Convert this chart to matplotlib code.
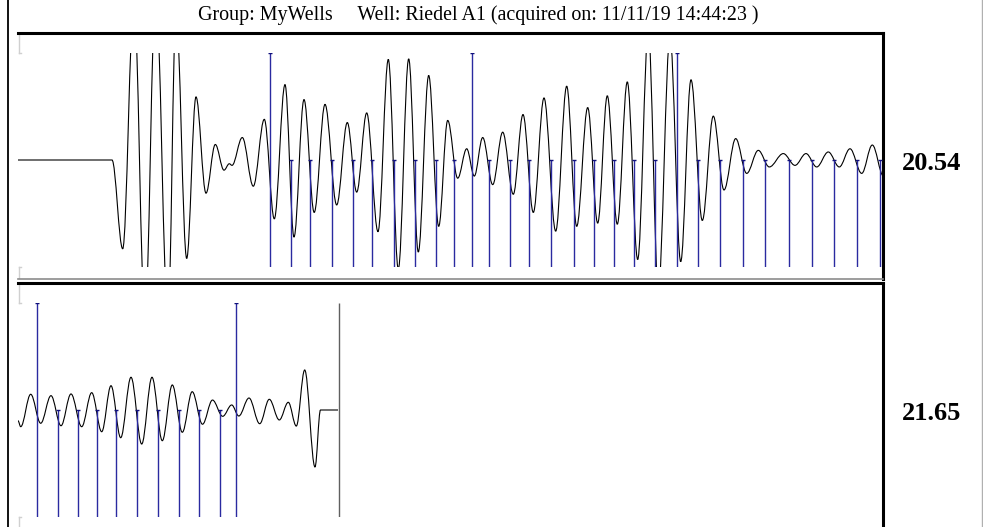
import matplotlib.pyplot as plt
from matplotlib.path import Path
from matplotlib.patches import PathPatch

# trace extrema: sample index and normalised amplitude (clip = +/-1)
top_t = [0, 94, 104.7, 116, 127, 137.7, 150, 158, 168.7, 178, 188, 197.3, 206, 211.3, 214,
         224.3, 235.3, 246.3, 256.3, 267, 276, 286, 296.2, 307, 318.7, 329.3, 338.7, 348.7,
         360, 370.3, 380.3, 390.7, 400.3, 410.7, 420.7, 429.7, 439.7, 448.7, 456.3, 464.7,
         474.7, 484.7, 495.3, 505, 515.3, 526, 537.7, 548.7, 558.7, 569.7, 579.7, 589.3,
         599.3, 609.3, 619.7, 630.3, 640.3, 652, 662.7, 673, 684.3, 695.3, 706, 717.7, 728.7,
         740.3, 751.3, 765.3, 777, 788, 798.7, 810.3, 821.3, 832, 843.7, 854.3, 865.5]
top_amp = [0, 0, -0.83, 1.5, -1.5, 1.6, -1.5, 1.4, -0.92, 0.59, -0.31, 0.145, -0.095, -0.035,
           -0.05, 0.21, -0.245, 0.38, -0.55, 0.705, -0.72, 0.565, -0.49, 0.52, -0.42, 0.35,
           -0.30, 0.44, -0.67, 0.94, -1.02, 0.945, -0.86, 0.79, -0.62, 0.37, -0.17, 0.105,
           -0.15, 0.21, -0.23, 0.26, -0.32, 0.425, -0.49, 0.58, -0.665, 0.69, -0.62, 0.49,
           -0.59, 0.60, -0.60, 0.73, -0.93, 1.2, -1.2, 1.15, -0.95, 0.75, -0.565, 0.41, -0.28,
           0.20, -0.125, 0.09, -0.065, 0.06, -0.05, 0.06, -0.065, 0.075, -0.065, 0.105, -0.125,
           0.14, -0.15]

bot_t = [0, 2.7, 12.7, 22.7, 33, 43, 53, 63.7, 73.7, 83.7, 93, 102.7, 113, 123.7, 134, 144.3,
         154.3, 164.3, 174.2, 184.5, 194.5, 204.7, 213.7, 220.8, 231, 241.7, 251.3, 261.3,
         270.3, 278.3, 286.7, 297, 302.5, 320]
bot_amp = [-0.10, -0.156, 0.147, -0.124, 0.134, -0.147, 0.15, -0.156, 0.162, -0.203, 0.227,
           -0.259, 0.306, -0.318, 0.306, -0.287, 0.234, -0.208, 0.171, -0.133, 0.093, -0.059,
           0.047, -0.056, 0.112, -0.128, 0.10, -0.093, 0.072, -0.15, 0.374, -0.533, 0, 0]
bot_end = 321

# picks (tall = first break / marker)
top_picks = [252, 272.7, 291.5, 314, 335, 354, 376.3, 397.3, 417.5, 436.3, 454, 471.3, 492,
             511, 533, 555.5, 576, 595.5, 616, 637, 659, 680.3, 702, 724.7, 747, 771.3, 794,
             816.3, 838.7, 861.5]
top_tall = [252, 454, 659]
bot_picks = [18.7, 39.7, 60.3, 79.3, 98.3, 119, 139.7, 160.7, 181.3, 202, 217.5]
bot_tall = [18.7, 217.5]

title = 'Group: MyWells     Well: Riedel A1 (acquired on: 11/11/19 14:44:23 )'
labels = ['20.54', '21.65']

W, H = 983, 527
fig = plt.figure(figsize=(W / 100, H / 100), dpi=100)
serif = ['Liberation Serif', 'DejaVu Serif']


def px_axes(x0, y0, x1, y1):
    return fig.add_axes([x0 / W, 1 - y1 / H, (x1 - x0) / W, (y1 - y0) / H])


def smooth_trace(ax, t, a):
    # half-cosine like bezier between consecutive extrema
    verts = [(t[0], a[0])]
    codes = [Path.MOVETO]
    for i in range(1, len(t)):
        d = t[i] - t[i - 1]
        verts += [(t[i - 1] + 0.36 * d, a[i - 1]), (t[i] - 0.36 * d, a[i]), (t[i], a[i])]
        codes += [Path.CURVE4] * 3
    ax.add_patch(PathPatch(Path(verts, codes), fill=False, color='black', lw=0.8))


def frame(y0, y1, clip0, clip1, bottom=True):
    ax = px_axes(18, y0, 883, y1)
    ax.set_xlim(0, 1)
    ax.set_ylim(y1, y0)
    ax.set_xticks([])
    ax.set_yticks([])
    ax.patch.set_alpha(0)
    ax.spines['left'].set_visible(False)
    for s in ['top', 'right']:
        ax.spines[s].set_linewidth(2.2)
        ax.spines[s].set_color('black')
    if bottom:
        ax.spines['bottom'].set_color('#8c8c8c')
        ax.spines['bottom'].set_linewidth(1.2)
    else:
        ax.spines['bottom'].set_visible(False)
    g = '#d0d0d0'
    ax.plot([0.001, 0.001], [y0, clip0], color=g, lw=1)
    ax.plot([0.001, 0.004], [clip0, clip0], color=g, lw=1)
    ax.plot([0.001, 0.001], [clip1, y1], color=g, lw=1)
    ax.plot([0.001, 0.004], [clip1, clip1], color=g, lw=1)


def panel(y0, y1, t, a, picks, tall, end=None):
    ax = px_axes(18, y0, 883, y1)
    ax.set_xlim(0, 865)
    ax.set_ylim(-1, 1)
    ax.axis('off')
    ax.patch.set_alpha(0)
    short = [p for p in picks if p not in tall]
    ax.vlines(short, -1, 0, color='#2a2aa0', lw=1.0)
    ax.vlines(tall, -1, 1, color='#2a2aa0', lw=1.0)
    ax.plot(short, [0] * len(short), ls='none', marker='_', ms=3, color='#10107a')
    ax.plot(tall, [1] * len(tall), ls='none', marker='_', ms=3, color='#10107a')
    if end is not None:
        ax.vlines([end], -1, 1, color='#606060', lw=1.0)
    smooth_trace(ax, t, a)
    return ax


frame(33, 279, 53, 267)
panel(53, 267, top_t, top_amp, top_picks, top_tall)
frame(283, 527, 303, 517, bottom=False)
panel(303, 517, bot_t, bot_amp, bot_picks, bot_tall, end=bot_end)

fig.text(478 / W, 1 - 15 / H, title, ha='center', va='center', fontsize=14.4, family=serif)
fig.text(932 / W, 1 - 163 / H, labels[0], ha='center', va='center', fontsize=19,
         fontweight='bold', family=serif)
fig.text(932 / W, 1 - 413 / H, labels[1], ha='center', va='center', fontsize=19,
         fontweight='bold', family=serif)

# outer border lines of the window
fig.add_artist(plt.Line2D([7.5 / W, 7.5 / W], [0, 1], color='black', lw=1.3))
fig.add_artist(plt.Line2D([981.5 / W, 981.5 / W], [0, 1], color='#b0b0b0', lw=1.0))

fig.savefig('out.png', dpi=100)
